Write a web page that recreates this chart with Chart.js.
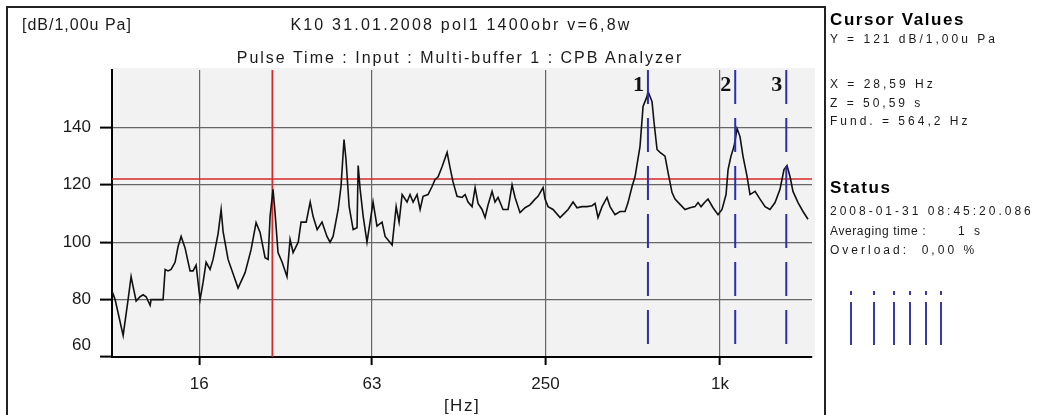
<!DOCTYPE html>
<html><head><meta charset="utf-8">
<script src="https://cdn.jsdelivr.net/npm/chart.js@4.4.1/dist/chart.umd.min.js"></script>
<style>
html,body{margin:0;padding:0;background:#fff;width:1044px;height:415px;overflow:hidden;}
#wrap{position:relative;width:1044px;height:415px;}
canvas{position:absolute;left:0;top:0;}
.t{position:absolute;font-family:"Liberation Sans",Arial,sans-serif;color:#1a1a1a;white-space:pre;line-height:1;}
.c{transform:translateX(-50%);}
.b{font-weight:bold;color:#000;}
.s{font-size:12px;letter-spacing:3px;}
#frame{position:absolute;left:6px;top:6px;width:816px;height:420px;border:2px solid #222;border-bottom:none;}
.bar{position:absolute;width:2px;background:#3a3aa8;}
</style></head>
<body><div id="wrap">
<canvas id="c" width="1044" height="415"></canvas>
<div id="frame"></div>
<div class="t" style="left:22px;top:17px;font-size:16px;letter-spacing:1px;">[dB/1,00u Pa]</div>
<div class="t c" style="left:461px;top:17px;font-size:16px;letter-spacing:2.2px;">K10 31.01.2008 pol1 1400obr v=6,8w</div>
<div class="t c" style="left:460px;top:50px;font-size:16px;letter-spacing:2px;">Pulse Time : Input : Multi-buffer 1 : CPB Analyzer</div>
<div class="t c" style="left:462px;top:397px;font-size:17px;letter-spacing:1.5px;">[Hz]</div>

<div class="t b" style="left:830px;top:11px;font-size:17px;letter-spacing:1.6px;">Cursor Values</div>
<div class="t s" style="left:830px;top:33px;">Y = 121 dB/1,00u Pa</div>
<div class="t s" style="left:830px;top:78px;">X = 28,59 Hz</div>
<div class="t s" style="left:830px;top:97px;">Z = 50,59 s</div>
<div class="t s" style="left:830px;top:115px;">Fund. = 564,2 Hz</div>
<div class="t b" style="left:830px;top:179px;font-size:17px;letter-spacing:1.6px;">Status</div>
<div class="t s" style="left:830px;top:205px;">2008-01-31 08:45:20.086</div>
<div class="t s" style="left:830px;top:225px;letter-spacing:0.6px;">Averaging time :</div>
<div class="t s" style="left:958px;top:225px;">1 s</div>
<div class="t s" style="left:830px;top:244px;">Overload:  0,00 %</div>
<div id="icons"></div>
</div>
<script>
// ---- data ----
const freqHz = [
 8.01, 8.20, 8.74, 9.09, 9.31, 9.46, 9.69, 10.0, 10.24, 10.49, 10.83, 10.91, 12.0, 12.2, 12.49, 12.79,
 13.2, 13.52, 13.85, 14.29, 14.87, 15.23, 15.6, 16.1, 16.49, 16.89, 17.43, 17.85, 18.58, 19.03, 19.33,
 20.11, 21.77, 23.02, 24.14, 25.12, 25.93, 26.98, 27.63, 28.07, 28.74, 29.2,
 29.9, 30.9, 32.1, 32.9, 33.7, 35.1, 35.9, 37.4, 38.6, 39.5, 40.8, 42.4, 44.1, 45.2, 46.3, 48.2, 49.3,
 50.5, 51.3, 52.6, 54.3, 56.0, 56.5, 57.4, 58.8, 60.6, 62.1, 63.6, 65.6, 68.3, 70.0, 74.0, 76.4, 78.2,
 80.1, 83.3, 85.3, 87.4, 90.2, 92.4, 94.6, 98.4, 101.6, 104.0, 106.6, 110.0, 114.5, 117.2,
 120.0, 123.9, 128.9, 132.1, 135.2, 139.6, 143.0, 146.4, 151.1, 154.8, 158.5, 163.6, 167.5, 171.6,
 178.5, 185.8, 191.8, 196.4, 204.3, 212.6, 221.2, 230.2, 235.7, 245.3, 249.2, 255.2, 265.5, 280.8,
 292.1, 299.2, 311.3, 321.3, 334.2, 347.8, 361.9, 370.7, 379.5, 391.9, 407.7, 417.5, 434.4, 452.1, 470.4,
 481.7, 497.3, 509.2, 529.8, 542.7, 560.2, 564.6, 582.8, 592.2, 606.5, 621.0, 646.1, 661.8, 683.2, 699.5,
 728.1, 757.3, 788.1, 820.0, 839.6, 860.0, 887.8, 909.2, 946.1, 984.2, 1016, 1049, 1066, 1091, 1118,
 1145, 1172, 1200, 1239, 1269, 1321, 1374, 1430, 1487, 1548, 1610, 1662, 1702, 1744, 1785, 1858, 1933, 2011
];
const levelDb = [
 82.8, 80, 67.5, 80, 88, 84.5, 79.5, 81, 81.7, 81, 78, 80, 80, 90.5, 90, 90.5,
 93, 98.5, 102, 98, 90, 90, 92, 80, 86, 93, 90.5, 94, 103, 111.4, 103.7,
 94, 84, 89.4, 97.4, 106.8, 103.4, 94.6, 94, 109, 118.4, 110.3,
 96.4, 93, 88, 101, 96.4, 100, 107, 107, 114, 109, 104.4, 107, 102, 100, 102, 111.4, 119.4,
 135.8, 128.8, 112.4, 104.4, 105, 126.7, 118.4, 109, 100, 107, 114, 105.6, 107, 102, 99, 112.4, 107,
 116.6, 114, 116.6, 114, 116.6, 111.4, 116, 116.6, 119.4, 121.8, 122.8, 126.3, 131.3, 126,
 121, 116, 115.6, 116.6, 114, 112.4, 119, 113.5, 111.4, 108.6, 113, 117.7, 114, 115.6,
 111.4, 111.4, 120, 115.6, 110.3, 112, 113, 115, 116, 119, 115, 112.4, 111.4, 108.6,
 110.3, 111.4, 114, 112, 112.4, 112.4, 112.7, 113.5, 108.6, 112.4, 115.6, 112.4, 109.6, 110.7, 110.7,
 113.8, 119.4, 122.8, 133.4, 147.3, 150.8, 152.5, 149, 141.7, 132.3, 131.3, 130, 124.3, 117.3, 115,
 113.2, 111.4, 112, 112.4, 113.8, 112.4, 114, 115, 112, 109.6, 111.4, 116.6, 125.3, 130, 133.4,
 139.6, 136.8, 130, 123, 116.6, 117.7, 115, 112.4, 111.4, 113.8, 118.4, 125.3, 126.7, 122.8, 117.7, 113.8, 110.7, 108
];
const xTickValues = [16, 63, 250, 1000];
const xTickLabels = ['16', '63', '250', '1k'];
const yTickValues = [60, 80, 100, 120, 140, 160];
const xRange = [8, 2076];
const yRange = [60, 160];
const cursorX = 28.59;
const cursorY = 122;
const harmonicHz = [564.2, 1128.4, 1692.6];
const harmonicLabels = ['1', '2', '3'];
const harmonicBottomDb = 64;
const iconBars = [850, 873, 893, 909, 925, 940];

// decorative status icon
const icons = document.getElementById('icons');
iconBars.forEach(x => {
  const d = document.createElement('div'); d.className = 'bar';
  d.style.left = x + 'px'; d.style.top = '291px'; d.style.height = '4px'; icons.appendChild(d);
  const b = document.createElement('div'); b.className = 'bar';
  b.style.left = x + 'px'; b.style.top = '302px'; b.style.height = '43px'; icons.appendChild(b);
});

const FONT = '"Liberation Sans", Arial, sans-serif';
const spectrum = freqHz.map((f, i) => ({x: f, y: levelDb[i]}));
const line = (data, color, width, dash, order) => ({
  data, borderColor: color, borderWidth: width, borderDash: dash || [], pointRadius: 0,
  showLine: true, tension: 0, order, fill: false
});
const datasets = [
  line(spectrum, '#111111', 1.6, null, 2),
  line([{x: xRange[0], y: cursorY}, {x: xRange[1], y: cursorY}], '#d42a2a', 1.6, null, 3),
  line([{x: cursorX, y: yRange[0]}, {x: cursorX, y: yRange[1]}], '#d42a2a', 1.8, null, 3),
  ...harmonicHz.map(h => line([{x: h, y: yRange[1]}, {x: h, y: harmonicBottomDb}], '#2d2db4', 2, [34, 14], 1))
];

const decor = {
  id: 'decor',
  beforeDraw(chart) {
    const {ctx, chartArea: a} = chart;
    ctx.save(); ctx.fillStyle = '#f2f2f2';
    ctx.fillRect(a.left, a.top - 2, a.right - a.left + 3, a.bottom - a.top + 2);
    ctx.restore();
  },
  afterDraw(chart) {
    const ctx = chart.ctx, xs = chart.scales.x, ys = chart.scales.y;
    ctx.save();
    ctx.font = '17px ' + FONT; ctx.fillStyle = '#1a1a1a';
    ctx.textAlign = 'right'; ctx.textBaseline = 'middle';
    ctx.fillText(String(yTickValues[0]), chart.chartArea.left - 21, ys.getPixelForValue(yTickValues[0]) - 12);
    ctx.font = 'bold 22px "Liberation Serif", "Times New Roman", serif';
    ctx.fillStyle = '#111'; ctx.textBaseline = 'alphabetic';
    harmonicHz.forEach((h, i) => ctx.fillText(harmonicLabels[i], xs.getPixelForValue(h) - 4, chart.chartArea.top + 21));
    ctx.restore();
  }
};

new Chart(document.getElementById('c'), {
  type: 'scatter',
  data: {datasets},
  plugins: [decor],
  options: {
    responsive: false, animation: false, devicePixelRatio: 1,
    layout: {padding: {left: 0, top: 70, right: 232, bottom: 0}},
    plugins: {legend: {display: false}, tooltip: {enabled: false}, title: {display: false}},
    scales: {
      x: {
        type: 'logarithmic', min: xRange[0], max: xRange[1],
        afterBuildTicks: s => { s.ticks = xTickValues.map(v => ({value: v})); },
        afterFit: s => { s.height = 58; },
        grid: {color: '#666666', lineWidth: 1.2, tickColor: '#000', tickLength: 8, tickWidth: 2},
        border: {color: '#000', width: 2},
        ticks: {
          callback: (v, i) => xTickLabels[i], autoSkip: false, maxRotation: 0,
          font: {family: FONT, size: 17}, color: '#1a1a1a', padding: 9
        }
      },
      y: {
        type: 'linear', min: yRange[0], max: yRange[1],
        afterBuildTicks: s => { s.ticks = yTickValues.map(v => ({value: v})); },
        afterFit: s => { s.width = 112; },
        grid: {
          color: c => (c.tick && c.tick.value > yRange[0] && c.tick.value < yRange[1]) ? '#666666' : 'rgba(0,0,0,0)',
          tickColor: c => (c.tick && c.tick.value < yRange[1]) ? '#000' : 'rgba(0,0,0,0)',
          lineWidth: 1.2, tickLength: 12, tickWidth: 2
        },
        border: {color: '#000', width: 2},
        ticks: {
          callback: v => (v === yRange[0] || v === yRange[1]) ? '' : String(v), autoSkip: false,
          font: {family: FONT, size: 17}, color: '#1a1a1a', padding: 9
        }
      }
    }
  }
});
</script>
</body></html>
